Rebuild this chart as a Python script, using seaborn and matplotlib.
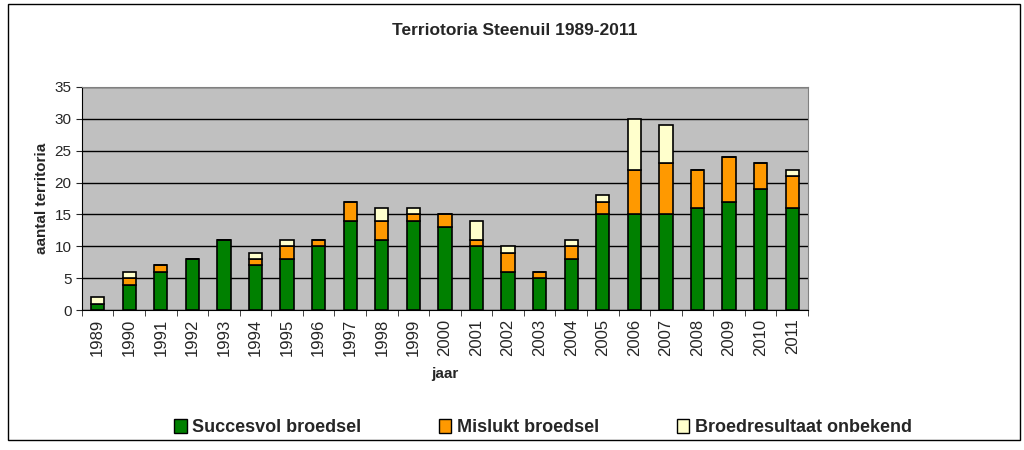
import numpy as np
import pandas as pd
import matplotlib
matplotlib.use("Agg")
import matplotlib.pyplot as plt
import seaborn as sns
from matplotlib.patches import Rectangle

jaren = [str(j) for j in range(1989, 2012)]
succesvol = [1, 4, 6, 8, 11, 7, 8, 10, 14, 11, 14, 13, 10, 6, 5, 8, 15, 15, 15, 16, 17, 19, 16]
mislukt = [0, 1, 1, 0, 0, 1, 2, 1, 3, 3, 1, 2, 1, 3, 1, 2, 2, 7, 8, 6, 7, 4, 5]
onbekend = [1, 1, 0, 0, 0, 1, 1, 0, 0, 2, 1, 0, 3, 1, 0, 1, 1, 8, 6, 0, 0, 0, 1]

df = pd.DataFrame({"jaar": jaren, "succesvol": succesvol, "mislukt": mislukt, "onbekend": onbekend})
df["b2"] = df["succesvol"] + df["mislukt"]

sns.set_style("white")
plt.rcParams["font.family"] = ["Liberation Sans", "DejaVu Sans"]

fig = plt.figure(figsize=(10.24, 4.5), dpi=100)
ax = fig.add_axes([0.080, 0.311, 0.709, 0.496])
ax.set_facecolor("#C0C0C0")

kw = dict(width=0.42, edgecolor="black", linewidth=1.2, ax=ax, zorder=3)
sns.barplot(data=df, x="jaar", y="succesvol", color="#008000", saturation=1, **kw)
sns.barplot(data=df, x="jaar", y="mislukt", bottom=df["succesvol"], color="#FF9900", saturation=1, **kw)
sns.barplot(data=df, x="jaar", y="onbekend", bottom=df["b2"], color="#FFFFCC", saturation=1, **kw)

ax.set_xlim(-0.5, len(jaren) - 0.5)
ax.set_ylim(0, 35)
ax.set_yticks(range(0, 36, 5))
ax.yaxis.grid(True, color="black", linewidth=1)
ax.set_axisbelow(True)
for s in ["top", "right"]:
    ax.spines[s].set_color("#808080")
for s in ["left", "bottom"]:
    ax.spines[s].set_color("black")
ax.tick_params(axis="x", rotation=90, labelsize=12, length=4, direction="out", bottom=True)
ax.tick_params(axis="y", labelsize=11, length=4, left=True)
ax.set_xticks(np.arange(len(jaren)))
ax.set_xticks(np.arange(len(jaren) + 1) - 0.5, minor=True)
ax.tick_params(axis="x", which="major", length=0, pad=6)
ax.tick_params(axis="x", which="minor", length=4, bottom=True)
ax.set_xlabel("jaar", fontsize=11, fontweight="bold", labelpad=8)
ax.set_ylabel("aantal territoria", fontsize=11, fontweight="bold")
fig.suptitle("Terriotoria Steenuil 1989-2011", x=0.503, y=0.933, va="center",
             fontsize=12.5, fontweight="bold")

handles = [Rectangle((0, 0), 1, 1, facecolor=c, edgecolor="black") for c in ["#008000", "#FF9900", "#FFFFCC"]]
fig.legend(handles, ["Succesvol broedsel", "Mislukt broedsel", "Broedresultaat onbekend"],
           loc="center", bbox_to_anchor=(0.530, 0.05), ncol=3, frameon=False,
           prop={"size": 13, "weight": "bold"}, handlelength=0.7, handleheight=0.8,
           columnspacing=4.3, handletextpad=0.3)

fig.patches.append(Rectangle((0.008, 0.022), 0.988, 0.97, transform=fig.transFigure,
                             fill=False, edgecolor="black", linewidth=1))

fig.savefig("out.png", dpi=100)
